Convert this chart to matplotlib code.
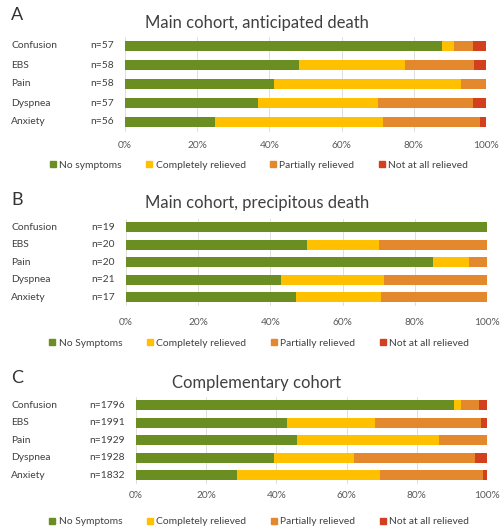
import matplotlib
matplotlib.use('Agg')
import matplotlib.pyplot as plt
import matplotlib.transforms as mtransforms
from matplotlib.patches import Patch

plt.rcParams['font.family'] = ['Lato', 'DejaVu Sans']

symptoms = ["Confusion", "EBS", "Pain", "Dyspnea", "Anxiety"]
categories = ["Completely relieved", "Partially relieved", "Not at all relieved"]
colors = ["#6b8e23", "#ffc000", "#e3882c", "#d3401e"]

# Panel A - main cohort, anticipated death (percent)
n_a = ["n=57", "n=58", "n=58", "n=57", "n=56"]
none_a = [87.7, 48.3, 41.4, 36.8, 25.0]
comp_a = [3.5, 29.3, 51.7, 33.3, 46.4]
part_a = [5.3, 19.0, 6.9, 26.3, 26.8]
notat_a = [3.5, 3.4, 0.0, 3.5, 1.8]

# Panel B - main cohort, precipitous death
n_b = ["n=19", "n=20", "n=20", "n=21", "n=17"]
none_b = [100.0, 50.0, 85.0, 42.9, 47.1]
comp_b = [0.0, 20.0, 10.0, 28.6, 23.5]
part_b = [0.0, 30.0, 5.0, 28.6, 29.4]
notat_b = [0.0, 0.0, 0.0, 0.0, 0.0]

# Panel C - complementary cohort
n_c = ["n=1796", "n=1991", "n=1929", "n=1928", "n=1832"]
none_c = [90.5, 43.0, 45.9, 39.4, 28.8]
comp_c = [2.1, 25.0, 40.5, 22.8, 40.8]
part_c = [5.2, 30.4, 13.6, 34.5, 29.4]
notat_c = [2.2, 1.6, 0.0, 3.3, 1.0]

W, H = 500, 530
fig = plt.figure(figsize=(W / 100, H / 100), dpi=100)

panels = [
    dict(letter="A", title="Main cohort, anticipated death", n=n_a,
         series=[none_a, comp_a, part_a, notat_a], first="No symptoms",
         left=125, right=486, top=36.5, row=19, nx=114, tick_y=146, leg_y=165,
         title_y=23, letter_y=15),
    dict(letter="B", title="Main cohort, precipitous death", n=n_b,
         series=[none_b, comp_b, part_b, notat_b], first="No Symptoms",
         left=126, right=487, top=218.5, row=17.5, nx=115, tick_y=323, leg_y=343,
         title_y=203, letter_y=200),
    dict(letter="C", title="Complementary cohort", n=n_c,
         series=[none_c, comp_c, part_c, notat_c], first="No Symptoms",
         left=136, right=487, top=396.5, row=17.5, nx=125, tick_y=496, leg_y=522,
         title_y=383, letter_y=378),
]

for p in panels:
    h = p["row"] * 5
    ax = fig.add_axes([p["left"] / W, (H - p["top"] - h) / H,
                       (p["right"] - p["left"]) / W, h / H])
    y = list(range(len(symptoms)))
    left = [0.0] * len(symptoms)
    for vals, c in zip(p["series"], colors):
        ax.barh(y, vals, left=left, height=0.55, color=c, zorder=3)
        left = [a + b for a, b in zip(left, vals)]
    ax.set_xlim(0, 100)
    ax.set_ylim(len(symptoms) - 0.5, -0.5)
    ax.set_xticks(range(0, 101, 20))
    ax.set_xticklabels([f"{v}%" for v in range(0, 101, 20)], fontsize=7.3, color="#595959")
    ax.set_yticks([])
    ax.tick_params(axis='x', length=0,
                   pad=(p["tick_y"] - p["top"] - h) * 0.72 - 3.5)
    ax.grid(axis='x', color="#d9d9d9", linewidth=0.6, zorder=0)
    for s in ax.spines.values():
        s.set_visible(False)

    trans = mtransforms.blended_transform_factory(fig.transFigure, ax.transData)
    for i, (lab, nn) in enumerate(zip(symptoms, p["n"])):
        ax.text(11 / W, i, lab, transform=trans, ha='left', va='center',
                fontsize=7.4, color="#404040")
        ax.text(p["nx"] / W, i, nn, transform=trans, ha='right', va='center',
                fontsize=7.4, color="#404040")

    fig.text(257 / W, 1 - p["title_y"] / H, p["title"], ha='center', va='center',
             fontsize=12, color="#404040")
    fig.text(11 / W, 1 - p["letter_y"] / H, p["letter"], ha='left', va='center',
             fontsize=13, color="#333333")

    handles = [Patch(color=c) for c in colors]
    fig.legend(handles, [p["first"]] + categories, loc='center',
               bbox_to_anchor=(259 / W, 1 - p["leg_y"] / H), ncol=4, frameon=False,
               fontsize=7.4, handlelength=0.6, handleheight=0.6, handletextpad=0.3,
               columnspacing=2.4, labelcolor="#404040")

fig.savefig("out.png", dpi=100)
